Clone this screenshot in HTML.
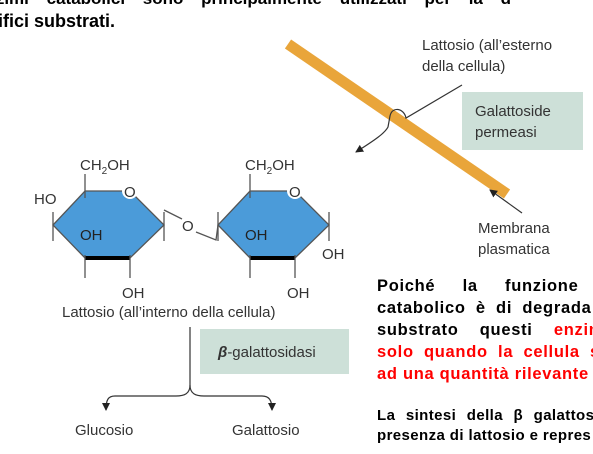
<!DOCTYPE html>
<html><head><meta charset="utf-8"><style>
html,body{margin:0;padding:0;background:#fff;width:593px;height:454px;overflow:hidden;position:relative}
svg{position:absolute;left:0;top:0}
.t{position:absolute;font-family:"Liberation Sans",sans-serif;font-weight:bold;color:#000;white-space:nowrap}
</style></head><body>
<svg width="593" height="454" viewBox="0 0 593 454" font-family="Liberation Sans, sans-serif">
<defs><marker id="ah" markerWidth="8" markerHeight="8" refX="7" refY="4" orient="auto" markerUnits="userSpaceOnUse"><path d="M0,0 L8,4 L0,8 Z" fill="#222"/></marker></defs>
<line x1="288" y1="44" x2="507" y2="194" stroke="#e9a53a" stroke-width="11"/>
<path d="M462,85 L406,118 C404,108 392,106 390,116 L388,127 C385,133 375,140 356,152" fill="none" stroke="#333" stroke-width="1.2" marker-end="url(#ah)"/>
<line x1="522" y1="213" x2="490" y2="190" stroke="#333" stroke-width="1.2" marker-end="url(#ah)"/>
<rect x="462" y="92" width="121" height="58" fill="#cde0d8"/>
<text x="475" y="116" font-size="15" fill="#333">Galattoside</text>
<text x="475" y="137" font-size="15" fill="#333">permeasi</text>
<text x="422" y="50" font-size="15" fill="#333">Lattosio (all’esterno</text>
<text x="422" y="71" font-size="15" fill="#333">della cellula)</text>
<text x="478" y="233" font-size="15" fill="#333">Membrana</text>
<text x="478" y="254" font-size="15" fill="#333">plasmatica</text>
<g stroke="#555" stroke-width="1.3" fill="none">
<polygon points="85,191 130,191 164,225 130,258 85,258 53,225" fill="#4b9bd9"/>
<polygon points="250,191 295,191 329,225 295,258 250,258 218,225" fill="#4b9bd9"/>
<line x1="85" y1="258" x2="130" y2="258" stroke="#000" stroke-width="4"/>
<line x1="250" y1="258" x2="295" y2="258" stroke="#000" stroke-width="4"/>
<line x1="85" y1="174" x2="85" y2="198"/><line x1="250" y1="174" x2="250" y2="198"/>
<line x1="53" y1="212" x2="53" y2="241"/><line x1="164" y1="212" x2="164" y2="241"/>
<line x1="218" y1="212" x2="218" y2="241"/><line x1="329" y1="212" x2="329" y2="241"/>
<line x1="85" y1="255" x2="85" y2="278"/><line x1="130" y1="255" x2="130" y2="278"/>
<line x1="250" y1="255" x2="250" y2="278"/><line x1="295" y1="255" x2="295" y2="278"/>
<polyline points="164,210 182,219"/><polyline points="196,232 216,240 218,225"/>
</g>
<g font-size="15" fill="#333">
<circle cx="130" cy="191" r="8" fill="#fff"/><text x="124" y="197">O</text>
<circle cx="295" cy="191" r="8" fill="#fff"/><text x="289" y="197">O</text>
<text x="182" y="231" fill="#333">O</text>
<text x="80" y="170">CH<tspan font-size="10" dy="4">2</tspan><tspan dy="-4">OH</tspan></text>
<text x="245" y="170">CH<tspan font-size="10" dy="4">2</tspan><tspan dy="-4">OH</tspan></text>
<text x="34" y="204">HO</text>
<text x="80" y="240" fill="#222">OH</text>
<text x="245" y="240" fill="#222">OH</text>
<text x="122" y="298">OH</text>
<text x="287" y="298">OH</text>
<text x="322" y="259">OH</text>
<text x="62" y="317">Lattosio (all’interno della cellula)</text>
<text x="75" y="435">Glucosio</text>
<text x="232" y="435">Galattosio</text>
</g>
<rect x="200" y="329" width="149" height="45" fill="#cde0d8"/>
<text x="218" y="357" font-size="15" fill="#333"><tspan font-style="italic" font-weight="bold">β</tspan>-galattosidasi</text>
<path d="M190,327 L190,385 C190,394 184,396 176,396 L115,396 C108,396 106,400 106,410" fill="none" stroke="#333" stroke-width="1.2" marker-end="url(#ah)"/>
<path d="M190,385 C190,394 196,396 204,396 L262,396 C269,396 272,400 272,410" fill="none" stroke="#333" stroke-width="1.2" marker-end="url(#ah)"/>
</svg>
<div class="t" style="left:-24px;top:-11px;font-size:17px;word-spacing:13px">enzimi catabolici sono principalmente utilizzati per la d</div>
<div class="t" style="left:-12px;top:11px;font-size:18px">cifici substrati.</div>
<div class="t" style="left:377px;top:275px;font-size:16.5px;line-height:22px;letter-spacing:0.7px">
<div style="word-spacing:22px">Poiché la funzione</div>
<div style="word-spacing:5px">catabolico è di degrada</div>
<div style="word-spacing:16px">substrato questi <span style="color:#f00">enzim</span></div>
<div style="color:#f00;word-spacing:5px">solo quando la cellula s</div>
<div style="color:#f00">ad una quantità rilevante</div>
</div>
<div class="t" style="left:377px;top:406px;font-size:15px;line-height:20px;letter-spacing:0.4px">
<div style="word-spacing:6px">La sintesi della β galattos</div>
<div>presenza di lattosio e repres</div>
</div>
</body></html>
